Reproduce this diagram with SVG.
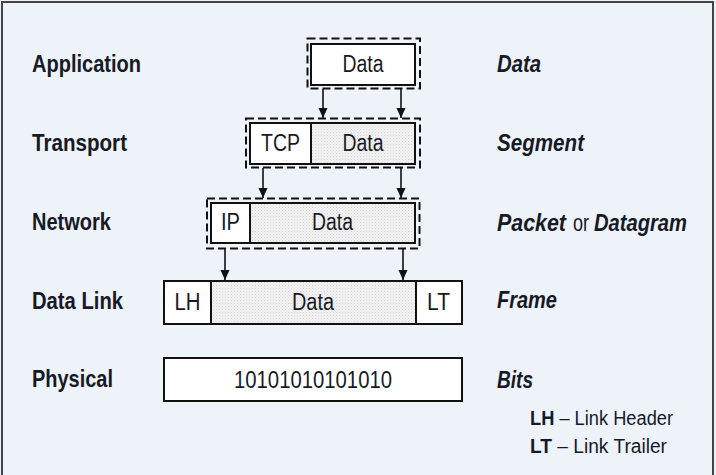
<svg xmlns="http://www.w3.org/2000/svg" width="716" height="475" viewBox="0 0 716 475">
<defs>
  <pattern id="dots" width="3" height="3" patternUnits="userSpaceOnUse">
    <rect width="3" height="3" fill="#f3f3f3"/>
    <rect x="0" y="0" width="1" height="1" fill="#d4d4d4"/>
    <rect x="1.5" y="1.5" width="1" height="1" fill="#dcdcdc"/>
  </pattern>
  <marker id="arr" viewBox="0 0 10 10" refX="10" refY="5" markerWidth="10" markerHeight="10" markerUnits="userSpaceOnUse" orient="auto">
    <path d="M0,0.5 L10,5 L0,9.5 Z" fill="#111"/>
  </marker>
  <style>
    .lbl{font-family:"Liberation Sans Narrow","Liberation Sans",Arial,sans-serif;font-weight:bold;font-size:24px;fill:#161a26}
    .unit{font-family:"Liberation Sans Narrow","Liberation Sans",Arial,sans-serif;font-weight:bold;font-style:italic;font-size:24px;fill:#161a26}
    .unitr{font-family:"Liberation Sans Narrow","Liberation Sans",Arial,sans-serif;font-size:24px;fill:#161a26}
    .box{font-family:"Liberation Sans Narrow","Liberation Sans",Arial,sans-serif;font-size:23px;fill:#161a26;text-anchor:middle}
    .leg{font-family:"Liberation Sans Narrow","Liberation Sans",Arial,sans-serif;font-size:20px;fill:#161a26}
    .solid{fill:#fff;stroke:#111;stroke-width:2}
    .dot{fill:url(#dots);stroke:#111;stroke-width:2}
    .dash{fill:none;stroke:#111;stroke-width:2;stroke-dasharray:8 4}
    .conn{stroke:#111;stroke-width:1.6;fill:none;marker-end:url(#arr)}
  </style>
</defs>
<rect x="0" y="0" width="716" height="475" fill="#eef2f9"/>
<rect x="2" y="2" width="711" height="490" fill="none" stroke="#444" stroke-width="2"/>

<g id="layer-labels">
  <text class="lbl" x="32" y="72" textLength="109" lengthAdjust="spacingAndGlyphs">Application</text>
  <text class="lbl" x="32" y="151" textLength="95" lengthAdjust="spacingAndGlyphs">Transport</text>
  <text class="lbl" x="32" y="230" textLength="79" lengthAdjust="spacingAndGlyphs">Network</text>
  <text class="lbl" x="32" y="309" textLength="91" lengthAdjust="spacingAndGlyphs">Data Link</text>
  <text class="lbl" x="32" y="387" textLength="81" lengthAdjust="spacingAndGlyphs">Physical</text>
</g>

<g id="unit-labels">
  <text class="unit" x="497" y="231" textLength="69" lengthAdjust="spacingAndGlyphs">Packet</text>
  <text class="unitr" x="573" y="231" textLength="16" lengthAdjust="spacingAndGlyphs">or</text>
  <text class="unit" x="594" y="231" textLength="93" lengthAdjust="spacingAndGlyphs">Datagram</text>
  <text class="unit" x="497" y="72" textLength="44" lengthAdjust="spacingAndGlyphs">Data</text>
  <text class="unit" x="497" y="151" textLength="87" lengthAdjust="spacingAndGlyphs">Segment</text>
  <text class="unit" x="497" y="308" textLength="60" lengthAdjust="spacingAndGlyphs">Frame</text>
  <text class="unit" x="497" y="388" textLength="36" lengthAdjust="spacingAndGlyphs">Bits</text>
</g>

<g id="application">
  <rect class="dash" x="307.5" y="38.5" width="112.5" height="50"/>
  <rect class="solid" x="311" y="44" width="104" height="41"/>
  <text class="box" x="363" y="72" textLength="41" lengthAdjust="spacingAndGlyphs">Data</text>
</g>

<g id="transport">
  <rect class="dash" x="246" y="118.5" width="174" height="49"/>
  <rect class="dot" x="250" y="123" width="165" height="41"/>
  <rect class="solid" x="250" y="123" width="61" height="41"/>
  <text class="box" x="280.5" y="151" textLength="39" lengthAdjust="spacingAndGlyphs">TCP</text>
  <text class="box" x="363" y="151" textLength="41" lengthAdjust="spacingAndGlyphs">Data</text>
</g>

<g id="network">
  <rect class="dash" x="207" y="198.5" width="212.5" height="50"/>
  <rect class="dot" x="211" y="203" width="204" height="40"/>
  <rect class="solid" x="211" y="203" width="39" height="40"/>
  <text class="box" x="230.5" y="230" textLength="19" lengthAdjust="spacingAndGlyphs">IP</text>
  <text class="box" x="332.5" y="230" textLength="41" lengthAdjust="spacingAndGlyphs">Data</text>
</g>

<g id="datalink">
  <rect class="dot" x="164" y="281" width="298" height="43"/>
  <rect class="solid" x="164" y="281" width="47" height="43"/>
  <rect class="solid" x="416" y="281" width="46" height="43"/>
  <text class="box" x="187.5" y="310" textLength="26" lengthAdjust="spacingAndGlyphs">LH</text>
  <text class="box" x="313" y="310" textLength="42" lengthAdjust="spacingAndGlyphs">Data</text>
  <text class="box" x="438.5" y="310" textLength="23" lengthAdjust="spacingAndGlyphs">LT</text>
</g>

<g id="physical">
  <rect class="solid" x="164" y="358" width="298" height="43"/>
  <text class="box" x="313" y="388" textLength="158" lengthAdjust="spacingAndGlyphs">10101010101010</text>
</g>

<g id="legend">
  <text class="leg" x="530" y="425" textLength="143" lengthAdjust="spacingAndGlyphs"><tspan font-weight="bold">LH</tspan> – Link Header</text>
  <text class="leg" x="530" y="453" textLength="137" lengthAdjust="spacingAndGlyphs"><tspan font-weight="bold">LT</tspan> – Link Trailer</text>
</g>

<g id="connectors">
  <line class="conn" x1="323" y1="89" x2="323" y2="118"/>
  <line class="conn" x1="401" y1="89" x2="401" y2="118"/>
  <line class="conn" x1="263" y1="168" x2="263" y2="198"/>
  <line class="conn" x1="401" y1="168" x2="401" y2="198"/>
  <line class="conn" x1="225" y1="249" x2="225" y2="280"/>
  <line class="conn" x1="403" y1="249" x2="403" y2="280"/>
</g>
</svg>
